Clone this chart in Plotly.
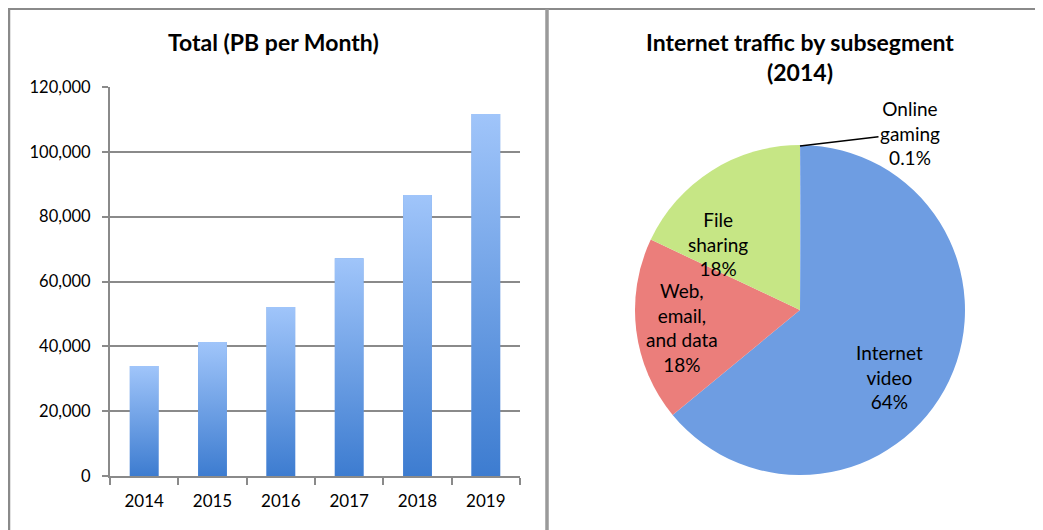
import plotly.graph_objects as go

# data
years = ["2014", "2015", "2016", "2017", "2018", "2019"]
total_pb = [33900, 41300, 52100, 67200, 86700, 111700]

segments = ["Online gaming", "Internet video", "Web, email, and data", "File sharing"]
segment_text = ["Online<br>gaming", "Internet<br>video", "Web,<br>email,<br>and data", "File<br>sharing"]
segment_share = [0.1, 64, 18, 18]
segment_pct = ["0.1%", "64%", "18%", "18%"]
segment_colors = ["#7FA6E6", "#6E9DE2", "#EB7E7B", "#C6E685"]

# page has an 8px body margin, so lay things out in page pixels and shift
OFF = 8
W, H = 1035, 522
FONT = "Lato, 'Open Sans', sans-serif"
GRID = "#8a8a8a"
BAR_HALF = 0.21


def px(x):
    return (x - OFF) / W


def py(y):
    return 1 - (y - OFF) / H


fig = go.Figure()

# base bar trace (sets up the category axis)
fig.add_trace(go.Bar(
    x=years, y=total_pb, width=2 * BAR_HALF,
    marker=dict(color="#6E9DE2", line=dict(width=0)),
    showlegend=False, hoverinfo="x+y",
))

# gradient overlay per bar (light at top, dark at bottom)
for i, v in enumerate(total_pb):
    fig.add_trace(go.Scatter(
        x=[i - BAR_HALF, i + BAR_HALF, i + BAR_HALF, i - BAR_HALF, i - BAR_HALF],
        y=[0, 0, v, v, 0],
        xaxis="x2", yaxis="y",
        mode="lines", line=dict(width=0),
        fill="toself",
        fillgradient=dict(type="vertical",
                          colorscale=[[0, "#3D7CD0"], [1, "#A0C5FA"]]),
        showlegend=False, hoverinfo="skip",
    ))

fig.add_trace(go.Pie(
    labels=segments, values=segment_share,
    sort=False, direction="clockwise", rotation=0,
    marker=dict(colors=segment_colors, line=dict(width=0)),
    textinfo="none",
    domain=dict(x=[px(635), px(965)], y=[py(475), py(145)]),
    showlegend=False,
))

# slice labels placed where the reference has them
label_pos = [(910, 133), (889, 377), (682, 327), (718, 244)]
annotations = [
    dict(text="<b>Total (PB per Month)</b>", x=px(273), y=py(42),
         xanchor="center", yanchor="middle",
         xref="paper", yref="paper", showarrow=False, font=dict(size=23)),
    dict(text="<b>Internet traffic by subsegment<br>(2014)</b>", x=px(800), y=py(57),
         xanchor="center", yanchor="middle",
         xref="paper", yref="paper", showarrow=False, font=dict(size=23)),
]
for i, (lx, ly) in enumerate(label_pos):
    txt = segment_text[i] + "<br>" + segment_pct[i]
    if i == 0:
        annotations.append(dict(
            text=txt, x=px(800), y=py(146), xref="paper", yref="paper",
            ax=lx - 800, ay=ly - 146, showarrow=True, arrowhead=0,
            arrowwidth=1.5, arrowcolor="black", font=dict(size=19)))
    else:
        annotations.append(dict(
            text=txt, x=px(lx), y=py(ly), xref="paper", yref="paper",
            xanchor="center", yanchor="middle", showarrow=False, font=dict(size=19)))

fig.update_layout(
    width=W, height=H,
    margin=dict(l=0, r=0, t=0, b=0, autoexpand=False),
    paper_bgcolor="white", plot_bgcolor="white",
    font=dict(family=FONT, size=16, color="black"),
    xaxis=dict(
        domain=[px(110), px(520)], range=[-0.5, 5.5], automargin=False,
        type="category", showline=True, linecolor=GRID, linewidth=2,
        ticks="outside", tickson="boundaries", ticklen=7, tickwidth=1.5, tickcolor=GRID,
        showgrid=False, tickfont=dict(size=17), ticklabelstandoff=9,
    ),
    xaxis2=dict(overlaying="x", range=[-0.5, 5.5], visible=False),
    yaxis=dict(
        domain=[py(476), py(87)], range=[0, 120000], automargin=False,
        tickvals=[0, 20000, 40000, 60000, 80000, 100000, 120000],
        tickformat=",", showline=True, linecolor=GRID, linewidth=2,
        ticks="outside", ticklen=6, tickwidth=1.5, tickcolor=GRID,
        showgrid=True, gridcolor=GRID, gridwidth=2, zeroline=False,
        tickfont=dict(size=16.5), ticklabelstandoff=8,
    ),
    annotations=annotations,
    shapes=[
        dict(type="line", xref="paper", yref="paper", x0=0, x1=1, y0=py(9), y1=py(9),
             line=dict(color="#8a8a8a", width=2)),
        dict(type="line", xref="paper", yref="paper", x0=px(9), x1=px(9), y0=0, y1=py(9),
             line=dict(color="#8a8a8a", width=2.5)),
        dict(type="line", xref="paper", yref="paper", x0=px(547), x1=px(547), y0=0, y1=py(9),
             line=dict(color="#9a9a9a", width=3.5)),
    ],
)

fig.write_html("out.html")
